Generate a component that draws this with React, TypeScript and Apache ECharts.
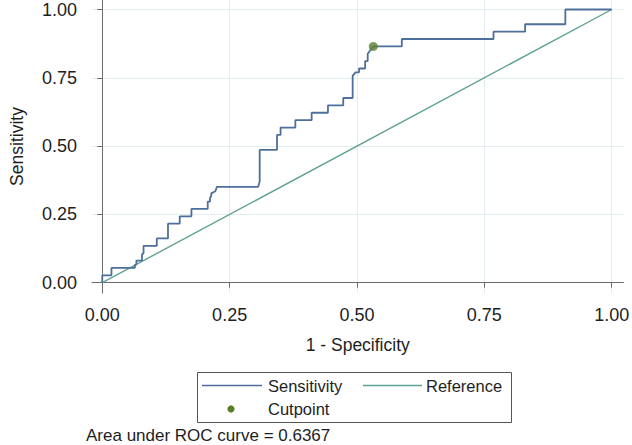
import React, { useEffect, useRef } from "react";
import * as echarts from "echarts";

// 1 - specificity (false positive rate) along the empirical ROC curve
const fpr = [
  0, 0, 0.018, 0.018, 0.064, 0.064, 0.067, 0.067, 0.078, 0.078, 0.081, 0.081,
  0.107, 0.107, 0.129, 0.129, 0.152, 0.152, 0.175, 0.175, 0.207, 0.207, 0.2115,
  0.2115, 0.214, 0.214, 0.222, 0.225, 0.306, 0.309, 0.309, 0.343, 0.343, 0.35,
  0.35, 0.379, 0.379, 0.411, 0.411, 0.443, 0.443, 0.473, 0.473, 0.4915, 0.4915,
  0.497, 0.504, 0.504, 0.516, 0.516, 0.521, 0.521, 0.532, 0.588, 0.588, 0.768,
  0.768, 0.83, 0.83, 0.909, 0.909, 1,
];
// sensitivity along the curve
const tpr = [
  0, 0.027, 0.027, 0.054, 0.054, 0.065, 0.068, 0.081, 0.081, 0.104, 0.108,
  0.135, 0.135, 0.162, 0.162, 0.216, 0.216, 0.243, 0.243, 0.27, 0.27, 0.297,
  0.297, 0.31, 0.318, 0.327, 0.335, 0.351, 0.351, 0.37, 0.486, 0.486, 0.541,
  0.541, 0.568, 0.568, 0.595, 0.595, 0.622, 0.622, 0.649, 0.649, 0.676, 0.676,
  0.757, 0.77, 0.77, 0.784, 0.784, 0.811, 0.811, 0.838, 0.865, 0.865, 0.892,
  0.892, 0.919, 0.919, 0.946, 0.946, 1, 1,
];
const refX = [0, 1];
const refY = [0, 1];
const cutX = [0.532];
const cutY = [0.865];
const tickValues = [0, 0.25, 0.5, 0.75, 1];
const aucText = "Area under ROC curve = 0.6367";
const legendNames = ["Sensitivity", "Reference", "Cutpoint"];

const FONT = "'Liberation Sans', Arial, Helvetica, sans-serif";
const C_SENS = "#4e6f9c";
const C_REF = "#5fa292";
const C_CUT = "#5a7f2a";
const C_GRID = "#e2edef";
const C_AXIS = "#6b6b6b";
const C_TEXT = "#1e1e1e";

export default function App() {
  const ref = useRef<HTMLDivElement>(null);
  useEffect(() => {
    if (!ref.current) return;
    const chart = echarts.init(ref.current, undefined, { renderer: "svg" });
    const curve = fpr.map((x, i) => [x, tpr[i]]);
    const refLine = refX.map((x, i) => [x, refY[i]]);
    const cut = cutX.map((x, i) => [x, cutY[i]]);
    const axisCommon = {
      type: "value" as const,
      nameLocation: "middle" as const,
      nameTextStyle: { fontFamily: FONT, fontSize: 17.5, color: C_TEXT },
      axisLine: { show: true, lineStyle: { color: C_AXIS, width: 1 } },
      axisTick: {
        show: true,
        length: 5,
        customValues: tickValues,
        lineStyle: { color: C_AXIS, width: 1 },
      },
      axisLabel: {
        customValues: tickValues,
        fontFamily: FONT,
        fontSize: 18,
        color: C_TEXT,
        formatter: (v: number) => v.toFixed(2),
      },
      splitLine: { show: true, lineStyle: { color: C_GRID, width: 1 } },
    };
    chart.setOption({
      animation: false,
      backgroundColor: "#ffffff",
      textStyle: { fontFamily: FONT },
      grid: { left: 82, top: 0, width: 543, height: 293, containLabel: false },
      xAxis: {
        ...axisCommon,
        min: -0.02017,
        max: 1.02305,
        name: "1 - Specificity",
        nameGap: 43,
        axisLabel: { ...axisCommon.axisLabel, margin: 13 },
      },
      yAxis: {
        ...axisCommon,
        min: -0.0377,
        max: 1.0348,
        name: "Sensitivity",
        nameGap: 66,
        axisLabel: { ...axisCommon.axisLabel, margin: 15 },
      },
      series: [
        {
          name: legendNames[1],
          type: "line",
          data: refLine,
          showSymbol: false,
          lineStyle: { color: C_REF, width: 1.4 },
          z: 2,
        },
        {
          name: legendNames[0],
          type: "line",
          data: curve,
          showSymbol: false,
          lineStyle: { color: C_SENS, width: 1.8 },
          z: 3,
        },
        {
          name: legendNames[2],
          type: "scatter",
          data: cut,
          symbol: "circle",
          symbolSize: 9,
          itemStyle: { color: C_CUT },
          z: 4,
        },
      ],
      graphic: [
        {
          type: "rect",
          shape: { x: 197.5, y: 372.5, width: 314, height: 50 },
          style: { fill: "#ffffff", stroke: "#555555", lineWidth: 1 },
        },
        {
          type: "line",
          shape: { x1: 202, y1: 385.5, x2: 262, y2: 385.5 },
          style: { stroke: C_SENS, lineWidth: 1.4 },
        },
        {
          type: "text",
          x: 268,
          y: 385.5,
          style: {
            text: legendNames[0],
            fontFamily: FONT,
            fontSize: 16.5,
            fill: C_TEXT,
            verticalAlign: "middle",
          },
        },
        {
          type: "line",
          shape: { x1: 363, y1: 385.5, x2: 422, y2: 385.5 },
          style: { stroke: C_REF, lineWidth: 1.4 },
        },
        {
          type: "text",
          x: 426,
          y: 385.5,
          style: {
            text: legendNames[1],
            fontFamily: FONT,
            fontSize: 16.5,
            fill: C_TEXT,
            verticalAlign: "middle",
          },
        },
        {
          type: "circle",
          shape: { cx: 231, cy: 409, r: 3.6 },
          style: { fill: C_CUT },
        },
        {
          type: "text",
          x: 268,
          y: 409,
          style: {
            text: legendNames[2],
            fontFamily: FONT,
            fontSize: 16.5,
            fill: C_TEXT,
            verticalAlign: "middle",
          },
        },
        {
          type: "text",
          x: 86,
          y: 435.5,
          style: {
            text: aucText,
            fontFamily: FONT,
            fontSize: 17,
            fill: C_TEXT,
            verticalAlign: "middle",
          },
        },
      ],
    });
    return () => chart.dispose();
  }, []);
  return (
    <div
      ref={ref}
      style={{ position: "fixed", left: 0, top: 0, width: 632, height: 445 }}
    />
  );
}
